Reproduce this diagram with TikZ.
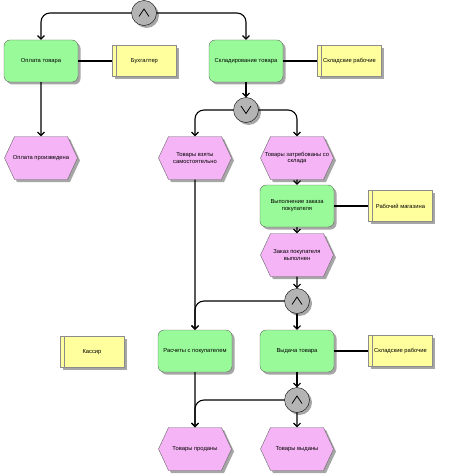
\documentclass[tikz,border=0pt]{standalone}
\usepackage{fontspec}
\setmainfont{Liberation Sans}
\usepackage{xcolor}
\usepackage{tikz}
\usetikzlibrary{shapes.symbols, shadows, arrows.meta, positioning}

\definecolor{funcgreen}{RGB}{152,250,152}
\definecolor{evpink}{RGB}{245,180,245}
\definecolor{orgyellow}{RGB}{255,255,158}
\definecolor{gategray}{RGB}{180,180,180}

\begin{document}
\begin{tikzpicture}[
    x=1pt, y=-1pt,
    font=\fontsize{5.8}{6.8}\selectfont,
    shade/.style={drop shadow={shadow xshift=2.5pt, shadow yshift=-2.5pt, fill=black!35, opacity=1}},
    func/.style={rectangle, draw=black!60, fill=funcgreen, rounded corners=6pt, minimum width=74pt, minimum height=42pt, align=center, inner sep=0pt, shade},
    event/.style={signal, signal to=east and west, signal pointer angle=130, draw=black!60, fill=evpink, minimum width=73pt, minimum height=43pt, align=center, inner xsep=-12pt, inner ysep=0pt, shade},
    org/.style={rectangle, draw=black!45, fill=orgyellow, minimum width=64pt, minimum height=31pt, inner sep=0pt, shade,
        path picture={\draw[black!45] ([xshift=4pt]path picture bounding box.north west) -- ([xshift=4pt]path picture bounding box.south west);}},
    gate/.style={circle, draw=black, fill=gategray, minimum size=25pt, inner sep=0pt, shade},
    andgate/.style={gate, path picture={\draw[thick] ([shift={(-5pt,-3.5pt)}]path picture bounding box.center) -- ([shift={(0pt,4pt)}]path picture bounding box.center) -- ([shift={(5pt,-3.5pt)}]path picture bounding box.center);}},
    orgate/.style={gate, path picture={\draw[thick] ([shift={(-5pt,4pt)}]path picture bounding box.center) -- ([shift={(0pt,-3.5pt)}]path picture bounding box.center) -- ([shift={(5pt,4pt)}]path picture bounding box.center);}},
    link/.style={line width=1.1pt},
    arrow/.style={link, -{Straight Barb[length=3.5pt, width=7pt]}, rounded corners=9pt}
]
\useasboundingbox (0,0) rectangle (450,476);

\node (and1) [andgate] at (144,13) {};
\node (pay) [func] at (41,61) {Оплата товара};
\node (buh) [org, right=34pt of pay] {Бухгалтер};
\node (store) [func] at (246,61) {Складирование товара};
\node (skl1) [org, right=34pt of store] {Складские рабочие};
\node (or1) [orgate] at (246,110) {};
\node (paid) [event] at (41,158) {Оплата произведена};
\node (taken) [event] at (195,158) {Товары взяты\\самостоятельно};
\node (req) [event] at (297,158) {Товары затребованы со\\склада};
\node (exec) [func] at (297,206) {Выполнение заказа\\покупателя};
\node (rab) [org, right=34pt of exec] {Рабочий магазина};
\node (done) [event] at (297,255) {Заказ покупателя\\выполнен};
\node (and2) [andgate] at (297,301) {};
\node (kas) [org] at (92,352) {Кассир};
\node (calc) [func] at (195,351) {Расчеты с покупателем};
\node (give) [func] at (297,351) {Выдача товара};
\node (skl2) [org, right=34pt of give] {Складские рабочие};
\node (and3) [andgate] at (297,400) {};
\node (sold) [event] at (195,449) {Товары проданы};
\node (issued) [event] at (297,449) {Товары выданы};

\draw [arrow] (and1.west) -| (pay.north);
\draw [arrow] (and1.east) -| (store.north);
\draw [link] (pay) -- (buh);
\draw [link] (store) -- (skl1);
\draw [arrow] (pay) -- (paid);
\draw [arrow] (store) -- (or1);
\draw [arrow] (or1.west) -| (taken.north);
\draw [arrow] (or1.east) -| (req.north);
\draw [arrow] (req) -- (exec);
\draw [link] (exec) -- (rab);
\draw [arrow] (exec) -- (done);
\draw [arrow] (done) -- (and2);
\draw [arrow] (taken) -- (calc);
\draw [arrow] (and2.west) -| (calc.north);
\draw [arrow] (and2) -- (give);
\draw [link] (give) -- (skl2);
\draw [arrow] (calc) -- (sold);
\draw [arrow] (give) -- (and3);
\draw [arrow] (and3.west) -| (sold.north);
\draw [arrow] (and3) -- (issued);

\end{tikzpicture}
\end{document}
